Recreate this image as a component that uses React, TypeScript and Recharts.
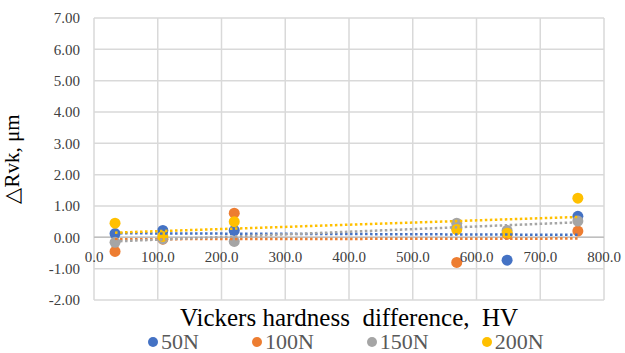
import {
  CartesianGrid,
  ReferenceLine,
  Scatter,
  ScatterChart,
  XAxis,
  YAxis,
} from "recharts";

// Vickers hardness difference (HV) of each sample
const hardnessDiff = [33, 108, 220, 569, 648, 759];

// ΔRvk (µm) per load
const rvk50N = [0.12, 0.22, 0.22, 0.3, -0.73, 0.67];
const rvk100N = [-0.45, -0.06, 0.77, -0.8, 0.1, 0.2];
const rvk150N = [-0.16, -0.05, -0.13, 0.45, 0.22, 0.52];
const rvk200N = [0.45, 0.03, 0.5, 0.25, 0.13, 1.25];

// linear trendline ends (value at first and last sample)
const trend50N = [0.13, 0.08];
const trend100N = [-0.06, -0.04];
const trend150N = [-0.13, 0.48];
const trend200N = [0.15, 0.65];

const xTicks = [0, 100, 200, 300, 400, 500, 600, 700, 800];
const yTicks = [-2, -1, 0, 1, 2, 3, 4, 5, 6, 7];

const series = [
  { name: "50N", values: rvk50N, trend: trend50N, color: "#4472C4" },
  { name: "100N", values: rvk100N, trend: trend100N, color: "#ED7D31" },
  { name: "150N", values: rvk150N, trend: trend150N, color: "#A5A5A5" },
  { name: "200N", values: rvk200N, trend: trend200N, color: "#FFC000" },
];

const FONT = '"Liberation Serif", "Times New Roman", serif';
const WIDTH = 625;
const HEIGHT = 353;
const X_AXIS_H = 20;
const MARGIN = { top: 18, right: 21, bottom: 53 - X_AXIS_H, left: 10 };
const PLOT_H = HEIGHT - MARGIN.top - MARGIN.bottom - X_AXIS_H;
// distance from plot bottom up to the y=0 line, where Excel puts the x labels
const ZERO_LIFT = (PLOT_H * (0 - yTicks[0])) / (yTicks[yTicks.length - 1] - yTicks[0]);

const toPoints = (values: number[]) =>
  values.map((v, i) => ({ x: hardnessDiff[i], y: v }));

const toTrend = (trend: number[]) => [
  { x: hardnessDiff[0], y: trend[0] },
  { x: hardnessDiff[hardnessDiff.length - 1], y: trend[1] },
];

const renderXTick = (props: any) => {
  const { x, payload } = props;
  const plotBottom = HEIGHT - MARGIN.bottom - X_AXIS_H;
  return (
    <text
      key={payload.value}
      x={x}
      y={plotBottom - ZERO_LIFT + 20}
      textAnchor="middle"
      dominantBaseline="central"
      fill="#404040"
      fontSize={15}
      fontFamily={FONT}
    >
      {Number(payload.value).toFixed(1)}
    </text>
  );
};

const Dot = (color: string) => (props: any) =>
  <circle cx={props.cx} cy={props.cy} r={5.5} fill={color} />;

export default function App() {
  return (
    <div
      style={{
        position: "absolute",
        left: 0,
        top: 0,
        width: WIDTH,
        height: HEIGHT,
        background: "#fff",
        fontFamily: FONT,
      }}
    >
      <ScatterChart width={WIDTH} height={HEIGHT} margin={MARGIN}>
        <CartesianGrid
          stroke="#d9d9d9"
          strokeWidth={1.5}
          verticalValues={xTicks}
          horizontalValues={yTicks}
        />
        <XAxis
          type="number"
          dataKey="x"
          domain={[0, 800]}
          ticks={xTicks}
          height={X_AXIS_H}
          axisLine={false}
          tickLine={false}
          interval={0}
          tick={renderXTick}
        />
        <YAxis
          type="number"
          dataKey="y"
          domain={[-2, 7]}
          ticks={yTicks}
          width={84}
          axisLine={false}
          tickLine={false}
          tickSize={0}
          tickMargin={14}
          interval={0}
          tickFormatter={(v) => Number(v).toFixed(2)}
          tick={{ fill: "#404040", fontSize: 15, fontFamily: FONT }}
          label={{
            value: "△Rvk, μm",
            angle: -90,
            position: "insideLeft",
            offset: 2,
            style: {
              textAnchor: "middle",
              fill: "#000",
              fontSize: 21,
              fontFamily: FONT,
            },
          }}
        />
        <ReferenceLine y={0} stroke="#bfbfbf" strokeWidth={1.5} />
        {series.map((s) => (
          <Scatter
            key={s.name}
            name={s.name}
            data={toPoints(s.values)}
            fill={s.color}
            shape={Dot(s.color)}
            isAnimationActive={false}
          />
        ))}
        {series.map((s) => (
          <Scatter
            key={s.name + "-trend"}
            name={s.name + " trend"}
            data={toTrend(s.trend)}
            line={{
              stroke: s.color,
              strokeWidth: 2.5,
              strokeDasharray: "2.5 2.5",
            }}
            shape={() => <g />}
            legendType="none"
            isAnimationActive={false}
          />
        ))}
      </ScatterChart>
      <div
        style={{
          position: "absolute",
          left: 94,
          width: 510,
          top: 306,
          textAlign: "center",
          fontSize: 25,
          lineHeight: "24px",
          color: "#000",
          whiteSpace: "pre",
        }}
      >
        {"Vickers hardness  difference,  HV"}
      </div>
      <div
        style={{
          position: "absolute",
          left: 0,
          top: 331,
          width: WIDTH,
          height: 22,
          display: "flex",
          gap: 53,
          fontSize: 22,
          lineHeight: "22px",
          color: "#595959",
          paddingLeft: 148,
          boxSizing: "border-box",
        }}
      >
        {series.map((s) => (
          <div key={s.name} style={{ display: "flex", alignItems: "center" }}>
            <span
              style={{
                display: "inline-block",
                width: 10,
                height: 10,
                borderRadius: "50%",
                background: s.color,
                marginRight: 3,
              }}
            />
            {s.name}
          </div>
        ))}
      </div>
    </div>
  );
}
